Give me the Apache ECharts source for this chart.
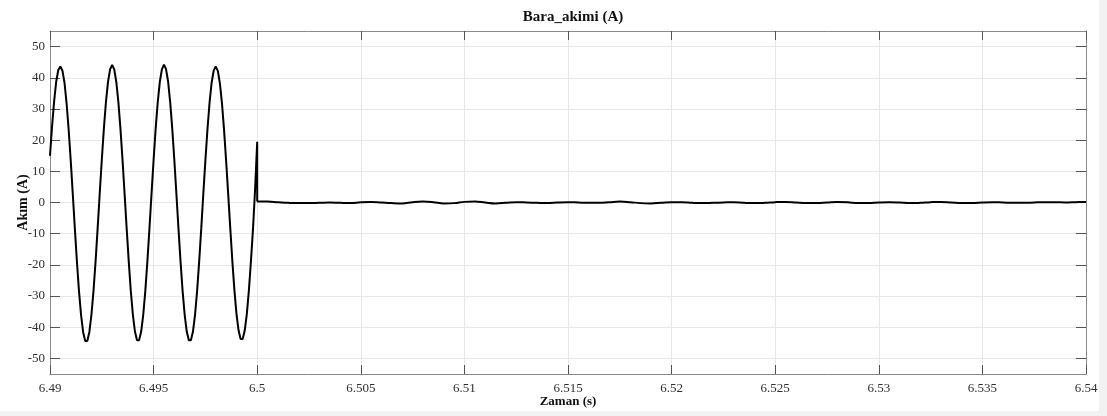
<!DOCTYPE html>
<html>
<head>
<meta charset="utf-8">
<script src="https://cdn.jsdelivr.net/npm/echarts@6/dist/echarts.min.js"></script>
<style>html,body{margin:0;padding:0;background:#fff}#c{width:1107px;height:416px}</style>
</head>
<body>
<div id="c"></div>
<script>
const chartTitle = 'Bara_akimi (A)';
const xName = 'Zaman (s)';
const yName = 'Akım (A)';
const yTicks = [-50, -40, -30, -20, -10, 0, 10, 20, 30, 40, 50];

const preTime = [
6.4900,6.4901,6.4902,6.4903,6.4904,6.4905,6.4906,6.4907,6.4908,6.4909,
6.4910,6.4911,6.4912,6.4913,6.4914,6.4915,6.4916,6.4917,6.4918,6.4919,
6.4920,6.4921,6.4922,6.4923,6.4924,6.4925,6.4926,6.4927,6.4928,6.4929,
6.4930,6.4931,6.4932,6.4933,6.4934,6.4935,6.4936,6.4937,6.4938,6.4939,
6.4940,6.4941,6.4942,6.4943,6.4944,6.4945,6.4946,6.4947,6.4948,6.4949,
6.4950,6.4951,6.4952,6.4953,6.4954,6.4955,6.4956,6.4957,6.4958,6.4959,
6.4960,6.4961,6.4962,6.4963,6.4964,6.4965,6.4966,6.4967,6.4968,6.4969,
6.4970,6.4971,6.4972,6.4973,6.4974,6.4975,6.4976,6.4977,6.4978,6.4979,
6.4980,6.4981,6.4982,6.4983,6.4984,6.4985,6.4986,6.4987,6.4988,6.4989,
6.4990,6.4991,6.4992,6.4993,6.4994,6.4995,6.4996,6.4997,6.4998,6.4999,
6.5000,6.5000];
const preCurrent = [
15.0,24.5,32.5,38.8,42.5,43.6,42.3,38.4,31.9,23.4,
13.5,2.7,-8.4,-19.0,-28.5,-36.1,-41.6,-44.4,-44.4,-41.5,
-36.0,-28.3,-18.8,-8.2,2.9,13.7,23.7,32.2,38.7,42.7,
44.1,42.7,38.7,32.2,23.7,13.7,2.8,-8.3,-18.9,-28.4,
-36.0,-41.4,-44.2,-44.2,-41.4,-36.0,-28.4,-18.9,-8.3,2.8,
13.7,23.7,32.2,38.7,42.7,44.2,42.8,38.8,32.2,23.7,
13.7,2.8,-8.3,-18.9,-28.4,-36.0,-41.4,-44.2,-44.2,-41.4,
-36.0,-28.4,-18.9,-8.3,2.8,13.6,23.5,32.0,38.4,42.3,
43.6,42.2,38.2,31.8,23.3,13.4,2.7,-8.2,-18.7,-28.1,
-35.7,-41.0,-43.8,-43.8,-41.0,-35.7,-28.1,-18.6,-8.2,4.5,
19.5,0.3];

const postTime = [
6.5000,6.5005,6.5010,6.5015,6.5020,6.5025,6.5030,6.5035,6.5040,6.5045,
6.5050,6.5055,6.5060,6.5065,6.5070,6.5075,6.5080,6.5085,6.5090,6.5095,
6.5100,6.5105,6.5110,6.5115,6.5120,6.5125,6.5130,6.5135,6.5140,6.5145,
6.5150,6.5155,6.5160,6.5165,6.5170,6.5175,6.5180,6.5185,6.5190,6.5195,
6.5200,6.5205,6.5210,6.5215,6.5220,6.5225,6.5230,6.5235,6.5240,6.5245,
6.5250,6.5255,6.5260,6.5265,6.5270,6.5275,6.5280,6.5285,6.5290,6.5295,
6.5300,6.5305,6.5310,6.5315,6.5320,6.5325,6.5330,6.5335,6.5340,6.5345,
6.5350,6.5355,6.5360,6.5365,6.5370,6.5375,6.5380,6.5385,6.5390,6.5395,
6.5400];
const postCurrent = [
0.3,0.3,0.1,-0.1,-0.2,-0.2,-0.1,0.0,-0.1,-0.2,
0.1,0.2,0.0,-0.2,-0.3,0.1,0.3,0.1,-0.3,-0.2,
0.2,0.3,0.0,-0.3,-0.1,0.1,0.0,-0.1,-0.2,0.0,
0.1,0.0,-0.1,-0.1,0.1,0.3,0.1,-0.2,-0.3,-0.1,
0.1,0.1,-0.1,-0.2,-0.1,0.0,0.1,-0.1,-0.2,-0.1,
0.1,0.2,0.0,-0.2,-0.2,0.0,0.2,0.1,-0.2,-0.2,
0.0,0.1,0.0,-0.2,-0.1,0.1,0.2,0.0,-0.2,-0.2,
0.0,0.1,0.0,-0.1,-0.1,0.0,0.1,0.1,0.0,0.1,
0.2];

const serif = '"Liberation Serif", "DejaVu Serif", serif';
const labelColor = '#303030';
const axisGray = '#8a8a8a';
const gridGray = '#e8e8e8';

const chart = echarts.init(document.getElementById('c'), null, {renderer: 'canvas'});
const fmtX = v => String(Number(v.toFixed(4)));

const xCommon = {
  type: 'value', min: 6.49, max: 6.54, interval: 0.005,
  axisLine: {show: true, onZero: false, lineStyle: {color: axisGray, width: 1}},
  axisTick: {show: true, inside: true, length: 9, lineStyle: {color: '#555'}}
};
const yCommon = {
  type: 'value', min: -55, max: 55,
  axisLine: {show: true, onZero: false, lineStyle: {color: axisGray, width: 1}},
  axisTick: {show: true, inside: true, length: 10, customValues: yTicks, lineStyle: {color: '#555'}}
};

chart.setOption({
  animation: false,
  backgroundColor: '#ffffff',
  title: {
    text: chartTitle, left: 568, top: 5, textAlign: 'center',
    textStyle: {fontFamily: serif, fontWeight: 'bold', fontSize: 15, color: '#111'}
  },
  grid: {left: 50, right: 21, top: 31, bottom: 42, show: false, outerBoundsMode: 'none', containLabel: false},
  xAxis: [
    Object.assign({}, xCommon, {
      position: 'bottom',
      name: xName, nameLocation: 'middle', nameGap: 21, nameMoveOverlap: false,
      nameTextStyle: {fontFamily: serif, fontWeight: 'bold', fontSize: 13, color: '#111'},
      axisLabel: {show: true, formatter: fmtX, margin: 8, fontFamily: serif, fontSize: 13, color: labelColor},
      splitLine: {show: true, lineStyle: {color: gridGray, width: 1}}
    }),
    Object.assign({}, xCommon, {
      position: 'top',
      axisLabel: {show: false},
      splitLine: {show: false}
    })
  ],
  yAxis: [
    Object.assign({}, yCommon, {
      position: 'left',
      name: yName, nameLocation: 'middle', nameGap: 20, nameRotate: 90, nameMoveOverlap: false,
      nameTextStyle: {fontFamily: serif, fontWeight: 'bold', fontSize: 14, color: '#111'},
      axisLabel: {show: true, customValues: yTicks, margin: 5, fontFamily: serif, fontSize: 13, color: labelColor},
      splitLine: {show: true, lineStyle: {color: gridGray, width: 1}}
    }),
    Object.assign({}, yCommon, {
      position: 'right',
      axisLabel: {show: false},
      splitLine: {show: false}
    })
  ],
  graphic: [
    {type: 'rect', shape: {x: 1099, y: 0, width: 8, height: 416}, style: {fill: '#f2f2f2'}, silent: true},
    {type: 'rect', shape: {x: 0, y: 411, width: 1099, height: 5}, style: {fill: '#f2f2f2'}, silent: true}
  ],
  series: [
    {
      type: 'line', xAxisIndex: 0, yAxisIndex: 0, showSymbol: false, smooth: false,
      data: preTime.map((t, i) => [t, preCurrent[i]]),
      lineStyle: {color: '#000', width: 2}, z: 5
    },
    {
      type: 'line', xAxisIndex: 0, yAxisIndex: 0, showSymbol: false, smooth: 0.4,
      data: postTime.map((t, i) => [t, postCurrent[i]]),
      lineStyle: {color: '#000', width: 2}, z: 5
    }
  ]
});
</script>
</body>
</html>
